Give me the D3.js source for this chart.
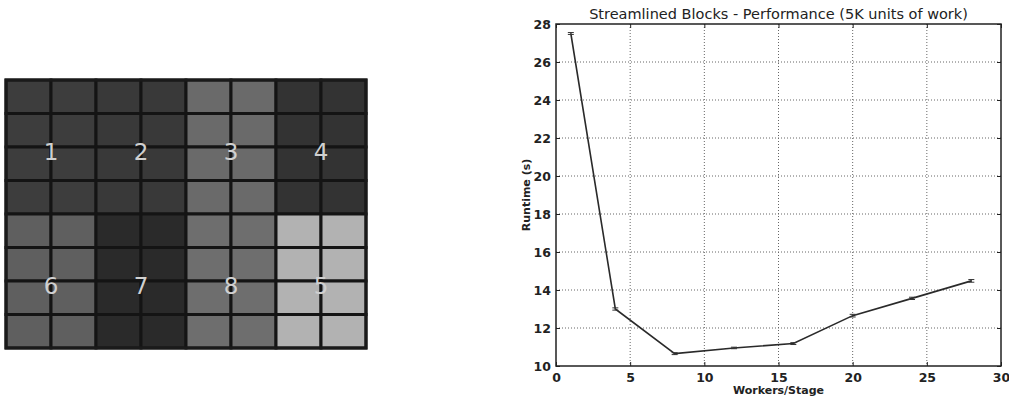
<!DOCTYPE html>
<html>
  <head>
    <title>Streamlined Blocks</title>
    <script src="https://d3js.org/d3.v7.min.js"></script>
    <style>
      body { margin: 0; background: #fff; }
      text { font-family: "DejaVu Sans", sans-serif; }
    </style>
  </head>
  <body>
  <svg width="1009" height="400"></svg>
  <script>

    // block layout data (2 rows x 4 blocks, each block 2x4 cells)
    var blockLabels = [["1", "2", "3", "4"], ["6", "7", "8", "5"]];
    var blockShades = [["#3d3d3d", "#393939", "#6a6a6a", "#333333"],
                       ["#5f5f5f", "#2a2a2a", "#6e6e6e", "#b2b2b2"]];

    // performance data
    var workers = [1, 4, 8, 12, 16, 20, 24, 28];
    var runtime = [27.5, 13.0, 10.65, 10.95, 11.18, 12.65, 13.56, 14.48];
    var runtimeErr = [0.05, 0.06, 0.05, 0.04, 0.05, 0.07, 0.06, 0.07];
    var xTicks = [0, 5, 10, 15, 20, 25, 30];
    var yTicks = [10, 12, 14, 16, 18, 20, 22, 24, 26, 28];

    var svg = d3.select("svg");

    // ---------- left: block grid ----------
    var gx = d3.scaleBand().domain(d3.range(8)).range([6, 366]);
    var gy = d3.scaleBand().domain(d3.range(8)).range([80, 348]);

    var cells = [];
    for (var r = 0; r < 8; r++) {
      for (var c = 0; c < 8; c++) {
        var br = Math.floor(r / 4), bc = Math.floor(c / 2);
        cells.push({r: r, c: c, shade: blockShades[br][bc]});
      }
    }

    var grid = svg.append("g");
    grid.selectAll("rect.cell")
      .data(cells)
      .enter().append("rect")
      .attr("class", "cell")
      .attr("x", function(d) { return gx(d.c); })
      .attr("y", function(d) { return gy(d.r); })
      .attr("width", gx.bandwidth())
      .attr("height", gy.bandwidth())
      .attr("fill", function(d) { return d.shade; })
      .attr("stroke", "#141414")
      .attr("stroke-width", 3);

    grid.append("rect")
      .attr("x", 6).attr("y", 80)
      .attr("width", 360).attr("height", 268)
      .attr("fill", "none")
      .attr("stroke", "#1a1a1a")
      .attr("stroke-width", 3);

    var labels = [];
    blockLabels.forEach(function(row, i) {
      row.forEach(function(t, j) { labels.push({t: t, br: i, bc: j}); });
    });
    grid.selectAll("text.num")
      .data(labels)
      .enter().append("text")
      .attr("class", "num")
      .attr("x", function(d) { return gx(d.bc * 2 + 1); })
      .attr("y", function(d) { return gy(d.br * 4 + 2) + 5; })
      .attr("dy", "0.36em")
      .attr("text-anchor", "middle")
      .attr("font-family", "'Open Sans', sans-serif")
      .attr("font-size", "23px")
      .attr("fill", "#d0d0d0")
      .text(function(d) { return d.t; });

    // ---------- right: performance chart ----------
    var pLeft = 556, pRight = 1001, pTop = 24, pBottom = 366;
    var x = d3.scaleLinear().domain([0, 30]).range([pLeft, pRight]);
    var y = d3.scaleLinear().domain([10, 28]).range([pBottom, pTop]);

    var chart = svg.append("g");

    // grid lines
    chart.selectAll("line.vgrid")
      .data(xTicks.slice(1, -1))
      .enter().append("line")
      .attr("x1", function(d) { return x(d); })
      .attr("x2", function(d) { return x(d); })
      .attr("y1", pTop).attr("y2", pBottom)
      .attr("stroke", "#666").attr("stroke-width", 1)
      .attr("stroke-dasharray", "1,2");
    chart.selectAll("line.hgrid")
      .data(yTicks.slice(1, -1))
      .enter().append("line")
      .attr("y1", function(d) { return y(d); })
      .attr("y2", function(d) { return y(d); })
      .attr("x1", pLeft).attr("x2", pRight)
      .attr("stroke", "#666").attr("stroke-width", 1)
      .attr("stroke-dasharray", "1,2");

    // axes, ticks inward on all sides
    chart.append("g")
      .attr("transform", "translate(0," + pBottom + ")")
      .call(d3.axisBottom(x).tickValues(xTicks).tickSize(-4).tickPadding(7))
      .call(function(g) { g.select(".domain").remove(); });
    chart.append("g")
      .attr("transform", "translate(0," + pTop + ")")
      .call(d3.axisTop(x).tickValues(xTicks).tickSize(-4).tickFormat(""))
      .call(function(g) { g.select(".domain").remove(); });
    chart.append("g")
      .attr("transform", "translate(" + pLeft + ",0)")
      .call(d3.axisLeft(y).tickValues(yTicks).tickSize(-4).tickPadding(5))
      .call(function(g) { g.select(".domain").remove(); });
    chart.append("g")
      .attr("transform", "translate(" + pRight + ",0)")
      .call(d3.axisRight(y).tickValues(yTicks).tickSize(-4).tickFormat(""))
      .call(function(g) { g.select(".domain").remove(); });

    chart.selectAll(".tick text")
      .attr("font-family", "'DejaVu Sans', sans-serif")
      .attr("font-size", "12.5px")
      .attr("font-weight", "bold")
      .attr("fill", "#222");
    chart.selectAll(".tick line").attr("stroke", "#222");

    chart.append("rect")
      .attr("x", pLeft).attr("y", pTop)
      .attr("width", pRight - pLeft).attr("height", pBottom - pTop)
      .attr("fill", "none")
      .attr("stroke", "#222").attr("stroke-width", 1.5);

    // line
    var pts = workers.map(function(w, i) { return {x: w, y: runtime[i], e: runtimeErr[i]}; });
    chart.append("path")
      .datum(pts)
      .attr("fill", "none")
      .attr("stroke", "#2a2a2a")
      .attr("stroke-width", 1.6)
      .attr("d", d3.line().x(function(d) { return x(d.x); }).y(function(d) { return y(d.y); }));

    // error bars
    var eb = chart.selectAll("g.err").data(pts).enter().append("g").attr("class", "err");
    eb.append("line")
      .attr("x1", function(d) { return x(d.x); })
      .attr("x2", function(d) { return x(d.x); })
      .attr("y1", function(d) { return y(d.y - d.e); })
      .attr("y2", function(d) { return y(d.y + d.e); })
      .attr("stroke", "#333");
    [-1, 1].forEach(function(s) {
      eb.append("line")
        .attr("x1", function(d) { return x(d.x) - 3; })
        .attr("x2", function(d) { return x(d.x) + 3; })
        .attr("y1", function(d) { return y(d.y + s * d.e); })
        .attr("y2", function(d) { return y(d.y + s * d.e); })
        .attr("stroke", "#333");
    });

    // titles
    chart.append("text")
      .attr("x", (pLeft + pRight) / 2).attr("y", 19)
      .attr("text-anchor", "middle")
      .attr("font-size", "14.5px")
      .attr("fill", "#222")
      .text("Streamlined Blocks - Performance (5K units of work)");
    chart.append("text")
      .attr("x", (pLeft + pRight) / 2).attr("y", 394)
      .attr("text-anchor", "middle")
      .attr("font-size", "11px")
      .attr("font-weight", "bold")
      .attr("fill", "#222")
      .text("Workers/Stage");
    chart.append("text")
      .attr("transform", "translate(530," + ((pTop + pBottom) / 2) + ") rotate(-90)")
      .attr("text-anchor", "middle")
      .attr("font-size", "11px")
      .attr("font-weight", "bold")
      .attr("fill", "#222")
      .text("Runtime (s)");

  </script>
  </body>
</html>
